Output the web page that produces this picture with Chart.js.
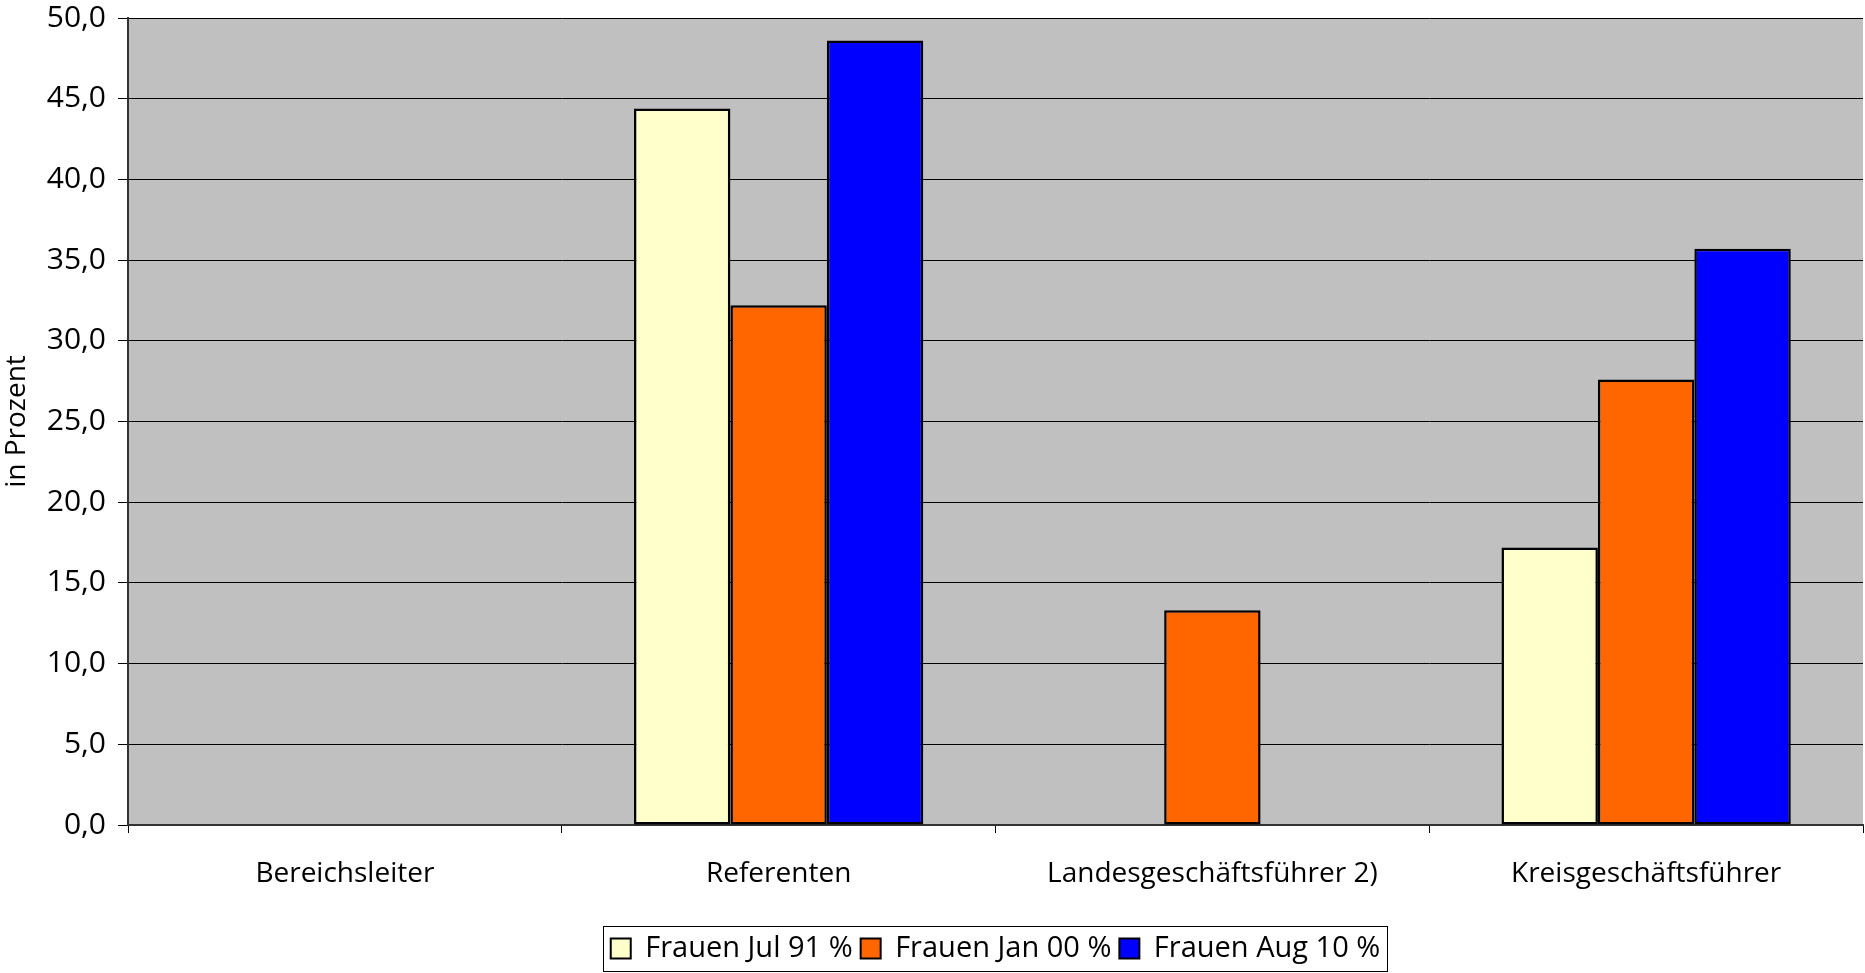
<!DOCTYPE html>
<html>
<head>
<meta charset="utf-8">
<script src="https://cdn.jsdelivr.net/npm/chart.js@4.4.1/dist/chart.umd.min.js"></script>
<style>
  html, body { margin: 0; padding: 0; background: #fff; }
  #wrap { width: 1865px; height: 973px; position: relative; }
</style>
</head>
<body>
<div id="wrap"><canvas id="bar-chart"></canvas></div>
<script>
// categories and series
const categories = ["Bereichsleiter", "Referenten", "Landesgeschäftsführer 2)", "Kreisgeschäftsführer"];
const seriesNames = ["Frauen Jul 91 %", "Frauen Jan 00 %", "Frauen Aug 10 %"];
const jul91 = [null, 44.4, null, 17.2];
const jan00 = [null, 32.2, 13.3, 27.6];
const aug10 = [null, 48.6, null, 35.7];
const yTicks = [0, 5, 10, 15, 20, 25, 30, 35, 40, 45, 50];

const colors = ["#FFFFCC", "#FF6600", "#0000FF"];
const FONT = "'Open Sans', sans-serif";

const plotBackground = {
  id: "plotBackground",
  beforeDraw(chart) {
    const { ctx, chartArea: a } = chart;
    ctx.save();
    ctx.fillStyle = "#C0C0C0";
    ctx.fillRect(a.left, a.top, a.right - a.left, a.bottom - a.top);
    ctx.restore();
  },
};

const legendFrame = {
  id: "legendFrame",
  afterDraw(chart) {
    const lg = chart.legend;
    if (!lg || !lg.legendHitBoxes.length) return;
    const boxes = lg.legendHitBoxes;
    const left = Math.min(...boxes.map((b) => b.left)) - 8;
    const right = Math.max(...boxes.map((b) => b.left + b.width)) + 6;
    const { ctx } = chart;
    ctx.save();
    ctx.strokeStyle = "#000";
    ctx.lineWidth = 1;
    ctx.strokeRect(Math.round(left) + 0.5, lg.top + 0.5, Math.round(right - left), lg.height - 2);
    ctx.restore();
  },
};

const ds = [jul91, jan00, aug10].map((data, i) => ({
  label: seriesNames[i],
  data: data,
  backgroundColor: colors[i],
  borderColor: "#000",
  borderWidth: 2.5,
  borderSkipped: false,
  categoryPercentage: 0.667,
  barPercentage: 1.0,
}));

new Chart(document.getElementById("bar-chart").getContext("2d"), {
  type: "bar",
  data: { labels: categories, datasets: ds },
  options: {
    responsive: true,
    maintainAspectRatio: false,
    animation: false,
    layout: { padding: { top: 18, right: 2, bottom: 0, left: 0 } },
    plugins: {
      legend: {
        position: "bottom",
        fullSize: false,
        labels: {
          color: "#000",
          font: { family: FONT, size: 29 },
          boxWidth: 20,
          boxHeight: 20,
          padding: 8,
          generateLabels(chart) {
            return chart.data.datasets.map((d, i) => ({
              text: d.label,
              fillStyle: d.backgroundColor,
              strokeStyle: "#000",
              lineWidth: 2,
              datasetIndex: i,
            }));
          },
        },
      },
      tooltip: { enabled: false },
    },
    scales: {
      x: {
        offset: true,
        grid: { display: true, drawOnChartArea: false, drawTicks: true, tickLength: 8, offset: true, color: "#000" },
        border: { color: "#333", width: 2 },
        ticks: { color: "#000", font: { family: FONT, size: 28 }, padding: 24, maxRotation: 0 },
        afterFit(scale) { scale.height = 101; },
      },
      y: {
        min: 0,
        max: 50,
        afterBuildTicks(scale) { scale.ticks = yTicks.map((v) => ({ value: v })); },
        grid: { color: "#000", lineWidth: 1, tickLength: 10 },
        border: { color: "#333", width: 2 },
        ticks: {
          color: "#000",
          font: { family: FONT, size: 30 },
          padding: 12,
          callback: (v) => v.toFixed(1).replace(".", ","),
        },
        title: { display: true, text: "in Prozent", color: "#000", font: { family: FONT, size: 28 }, padding: 0 },
        afterFit(scale) {
          scale.width = 128;
          scale.paddingTop = 0;
          scale.paddingBottom = 0;
        },
      },
    },
  },
  plugins: [plotBackground, legendFrame],
});
</script>
</body>
</html>
